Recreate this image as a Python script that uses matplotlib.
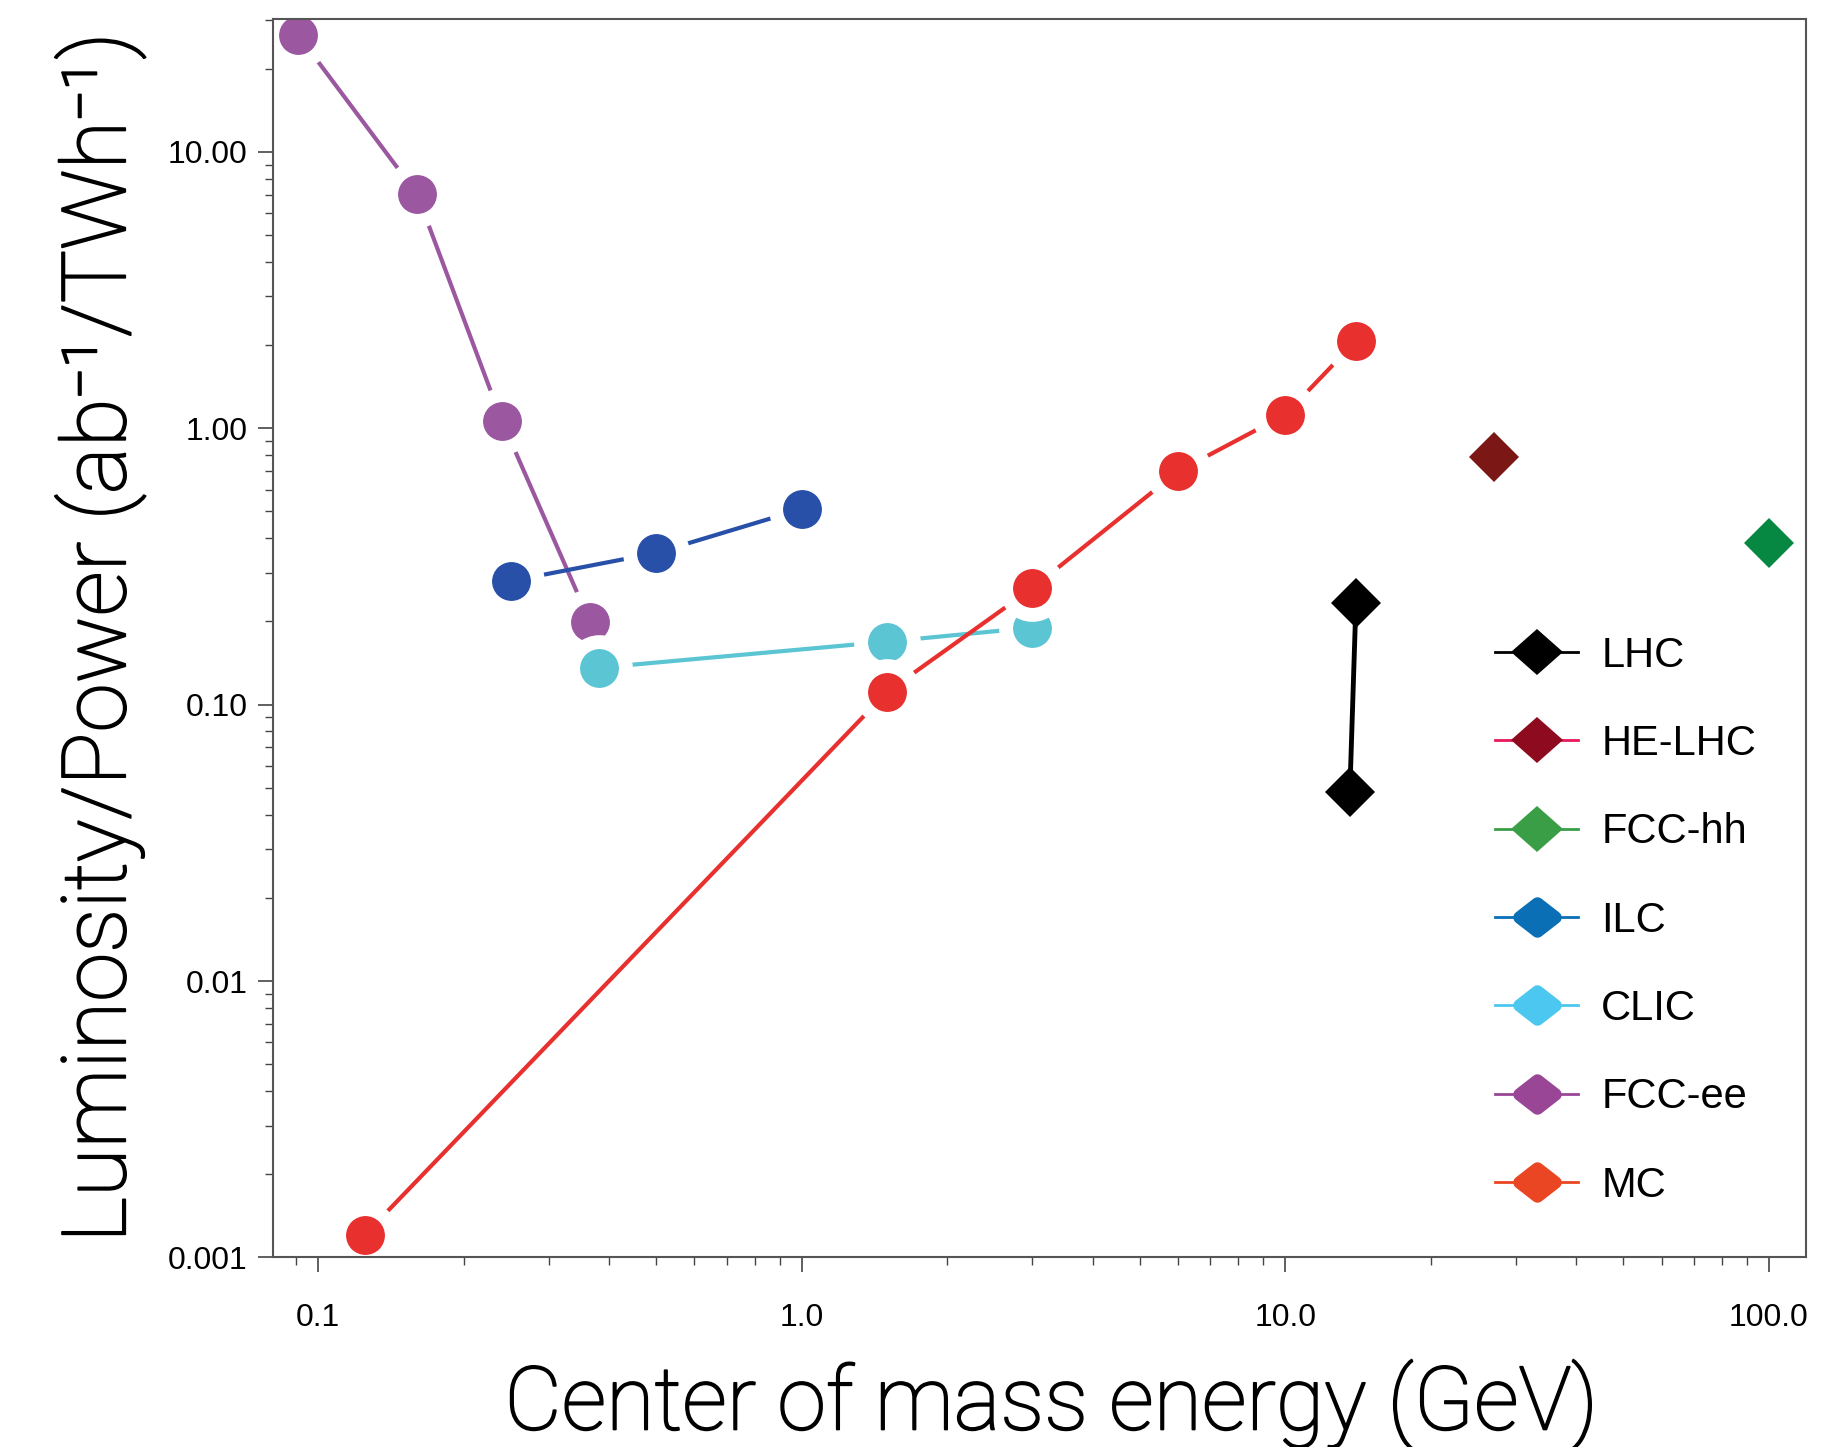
import numpy as np
import matplotlib.pyplot as plt
import matplotlib.patheffects as pe
from matplotlib.lines import Line2D
from matplotlib.markers import MarkerStyle
from matplotlib.transforms import Affine2D
from matplotlib.ticker import FixedLocator, FixedFormatter, LogLocator, NullFormatter

# ---------------- dados ----------------
fccee_x = [0.091, 0.16, 0.24, 0.365]
fccee_y = [26.4, 7.05, 1.06, 0.199]

ilc_x = [0.25, 0.50, 1.0]
ilc_y = [0.28, 0.354, 0.51]

clic_x = [0.38, 1.5, 3.0]
clic_y = [0.136, 0.169, 0.19]

mc_x = [0.125, 1.5, 3.0, 6.0, 10.0, 14.0]
mc_y = [0.00121, 0.111, 0.264, 0.698, 1.12, 2.07]

lhc_x = [14.0, 13.6]
lhc_y = [0.233, 0.0482]

helhc_x = [27.0]
helhc_y = [0.785]

fcchh_x = [100.0]
fcchh_y = [0.386]

legend_names = ['LHC', 'HE-LHC', 'FCC-hh', 'ILC', 'CLIC', 'FCC-ee', 'MC']

xticks = [0.1, 1.0, 10.0, 100.0]
xticklabels = ['0.1', '1.0', '10.0', '100.0']
yticks = [0.001, 0.01, 0.1, 1.0, 10.0]
yticklabels = ['0.001', '0.01', '0.10', '1.00', '10.00']

# ---------------- figura ----------------
fig = plt.figure(figsize=(18.3, 14.47), dpi=100)
ax = fig.add_axes([0.149, 0.131, 0.838, 0.856])

circ = dict(marker='o', ms=38, mec='white', mew=10, lw=3)
ax.plot(fccee_x, fccee_y, color='#9b58a0', **circ)
ax.plot(ilc_x, ilc_y, color='#2850a8', **circ)
ax.plot(clic_x, clic_y, color='#5bc5d3', **circ)
ax.plot(mc_x, mc_y, color='#e8302e', **circ)

ax.plot(lhc_x, lhc_y, color='black', marker='D', ms=25, mew=0, lw=3.5)
ax.plot(helhc_x, helhc_y, color='#7b1714', marker='D', ms=25, mew=0, ls='none')
ax.plot(fcchh_x, fcchh_y, color='#068843', marker='D', ms=25, mew=0, ls='none')

ax.set_xscale('log')
ax.set_yscale('log')
ax.set_xlim(0.0805, 119.5)
ax.set_ylim(0.001, 30.3)

ax.xaxis.set_major_locator(FixedLocator(xticks))
ax.xaxis.set_major_formatter(FixedFormatter(xticklabels))
ax.yaxis.set_major_locator(FixedLocator(yticks))
ax.yaxis.set_major_formatter(FixedFormatter(yticklabels))
ax.xaxis.set_minor_locator(LogLocator(base=10, subs=np.arange(2, 10)))
ax.yaxis.set_minor_locator(LogLocator(base=10, subs=np.arange(2, 10)))
ax.xaxis.set_minor_formatter(NullFormatter())
ax.yaxis.set_minor_formatter(NullFormatter())

for s in ax.spines.values():
    s.set_color('#555555')
    s.set_linewidth(1.5)

ax.tick_params(which='major', length=11, width=1.2, color='#444444',
               labelsize=23, labelfontfamily='Liberation Sans')
ax.tick_params(which='minor', length=6, width=1.0, color='#444444')
ax.tick_params(axis='x', which='major', pad=22)
ax.tick_params(axis='y', which='major', pad=7)
ax.tick_params(top=False, right=False)

grosso = [pe.withStroke(linewidth=1.3, foreground='black')]
ax.set_xlabel('Center of mass energy (GeV)', fontsize=63.5, family=['Roboto', 'DejaVu Sans'],
              weight='light', labelpad=18, path_effects=grosso)
ax.xaxis.set_label_coords(0.508, -0.083)
ax.set_ylabel('Luminosity/Power (ab\u207b\u00b9/TWh\u207b\u00b9)',
              fontsize=64, family=['Roboto', 'DejaVu Sans'], weight='light', labelpad=16,
              path_effects=grosso)

# legenda
sharp = MarkerStyle('D', transform=Affine2D().scale(1.15, 1.0))
round_d = MarkerStyle('D', transform=Affine2D().scale(1.3, 1.0), joinstyle='round')
handles = [
    Line2D([], [], color='black', marker=sharp, ms=23, mew=0, lw=2),
    Line2D([], [], color='#e8185a', marker=sharp, ms=23, mfc='#8e0a1e', mew=0, lw=2),
    Line2D([], [], color='#3a9e46', marker=sharp, ms=23, mew=0, lw=2),
    Line2D([], [], color='#0a6fb5', marker=round_d, ms=14, mew=9, lw=2),
    Line2D([], [], color='#4cc7ef', marker=round_d, ms=14, mew=9, lw=2),
    Line2D([], [], color='#9a4697', marker=round_d, ms=14, mew=9, lw=2),
    Line2D([], [], color='#ea4623', marker=round_d, ms=14, mew=9, lw=2),
]
ax.legend(handles, legend_names, loc='upper left', bbox_to_anchor=(0.797, 0.502),
          frameon=False, borderpad=0, borderaxespad=0, handlelength=2.0,
          handletextpad=0.55, labelspacing=1.16,
          prop={'family': 'Liberation Sans', 'size': 30})

fig.savefig('out.png', dpi=100, facecolor='white')
